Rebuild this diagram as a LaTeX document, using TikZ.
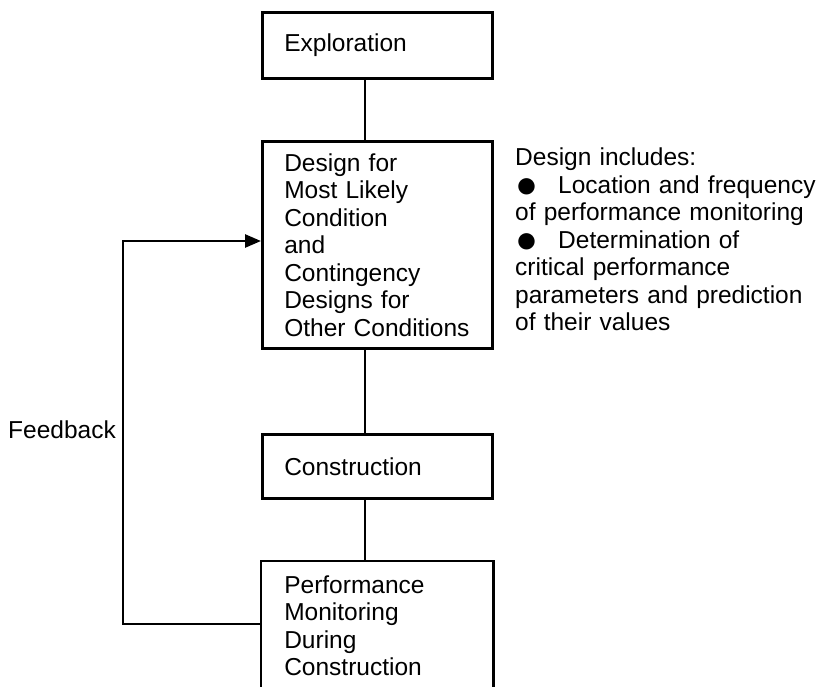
\documentclass[tikz,border=0pt]{standalone}
\usepackage{fontspec}
\usepackage{graphicx}
\newfontfamily\diafont{Liberation Sans}
\usetikzlibrary{arrows.meta}
\newcommand{\diasize}{\diafont\fontsize{24.5}{27.5}\selectfont}
\newcommand{\bigdot}{\makebox[43pt][l]{\raisebox{-4.4pt}[0pt][0pt]{\scalebox{1.55}{●}}}}

\begin{document}
\begin{tikzpicture}[x=1pt, y=-1pt,
		stagebox/.style={draw, line width=2.6pt, anchor=north west, minimum width=230pt, text width=186pt, inner xsep=22pt, inner ysep=0pt, align=left, font=\diasize},
		notes/.style={anchor=north west, inner sep=0pt, text width=302pt, align=left, font=\diasize},
		link/.style={line width=2.6pt},
		feedback/.style={line width=2.6pt, -{Triangle[length=16pt,width=13pt]}}]
			%%%%% START %%%%%
			
			\useasboundingbox (0, 0) rectangle (817, 686);
			\coordinate (spine) at (365, 0);
			
			\node[stagebox, minimum height=66pt] (explor) at (261, 11) {Exploration};
			\node[stagebox, minimum height=207pt] (design) at (261, 140) {Design for\\ Most Likely\\ Condition\\ and\\ Contingency\\ Designs for\\ Other Conditions};
			\node[stagebox, minimum height=64pt] (constr) at (261, 433) {Construction};
			\node[stagebox, draw=none, inner ysep=13.3pt] (perf) at (261, 561) {Performance\\ Monitoring\\ During\\ Construction};
			
			% box at the foot runs off the page
			\draw[link] (perf.north west |- 0, 700) -- (perf.north west) -- (perf.north east) -- (perf.north east |- 0, 700);
			
			\draw[link] (explor.south -| spine) -- (design.north -| spine);
			\draw[link] (design.south -| spine) -- (constr.north -| spine);
			\draw[link] (constr.south -| spine) -- (perf.north -| spine);
			
			\draw[feedback] (perf.west |- 0, 624) -- ++(-138, 0) |- (design.west |- 0, 241);
			\node[anchor=base east, inner sep=0pt, font=\diasize] (fblabel) at (116, 438) {Feedback};
			
			\node[notes] (incl) at (515, 148) {Design includes:\\ \bigdot Location and frequency\\ of performance monitoring\\ \bigdot Determination of\\ critical performance\\ parameters and prediction\\ of their values};
			
			%%%%% END %%%%%
		\end{tikzpicture}
\end{document}
